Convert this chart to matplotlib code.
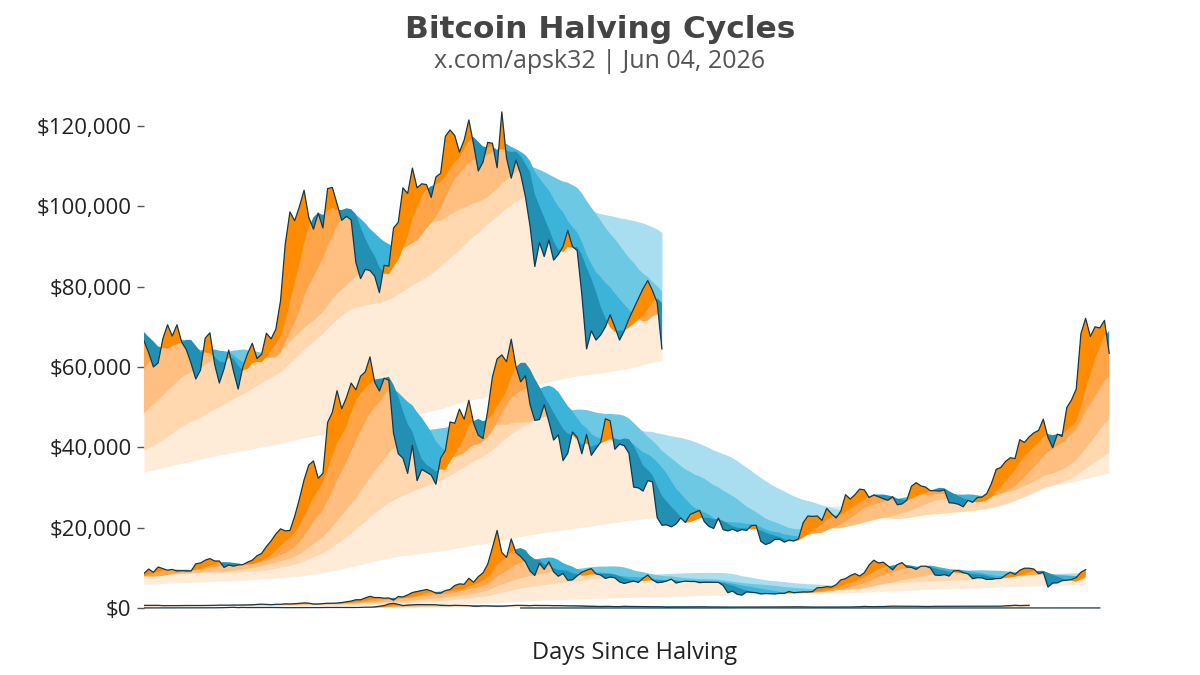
import numpy as np
import pandas as pd
import matplotlib
matplotlib.use("Agg")
import matplotlib.pyplot as plt

# ---------------- data (weekly samples, days since halving = 7 * index) ----------------
# cycle 0: genesis (2009-01-03) -> first halving; market data starts week 80 (mid-2010), USD
cycle0_start_week = 80
cycle0_usd = [0.05, 0.055, 0.065, 0.07, 0.07, 0.066, 0.064, 0.062, 0.062, 0.062, 0.062, 0.062,
              0.085, 0.10, 0.11, 0.19, 0.30, 0.27, 0.28, 0.22, 0.20, 0.23, 0.24, 0.25, 0.30, 0.32,
              0.39, 0.42, 0.44, 0.90, 1.05, 0.83, 0.90, 0.89, 0.90, 0.80, 0.82, 0.78, 0.75, 1.0,
              1.5, 3.5, 3.9, 7.5, 6.8, 8.5, 18.5, 19.0, 17.5, 16.5, 15.4, 14.6, 13.8, 13.8, 13.3,
              9.6, 10.7, 11.3, 8.6, 8.2, 4.8, 5.2, 5.2, 5.0, 4.1, 4.0, 3.2, 3.5, 3.0, 2.9, 2.3, 2.5,
              2.8, 3.1, 3.2, 3.9, 4.7, 6.8, 6.6, 6.2, 5.6, 5.9, 5.5, 4.4, 4.9, 4.9, 4.9, 5.4, 4.7,
              4.9, 4.8, 4.9, 5.1, 5.0, 5.1, 5.0, 5.1, 5.1, 5.3, 5.6, 6.5, 6.4, 6.7, 6.8, 7.6, 8.8,
              8.9, 11.0, 11.5, 11.6, 10.6, 10.2, 11.0, 11.8, 12.3, 12.4, 12.0, 11.8, 11.6, 10.8,
              10.6, 11.0, 11.7, 12.3]

# cycle 1: 2012-11-28 halving, USD
cycle1_usd = [12.4, 13.3, 13.6, 13.5, 13.4, 13.4, 14.0, 15.3, 17.5, 19.6, 21, 25, 29.5, 32, 44,
              47, 64, 89, 135, 165, 90, 140, 105, 112, 114, 122, 128, 121, 107, 108, 103, 79, 88,
              91, 95, 106, 106, 98, 119, 128, 125, 138, 127, 133, 108, 126, 145, 198, 205, 265,
              420, 600, 1000, 1150, 900, 600, 700, 770, 850, 850, 825, 810, 800, 650, 610, 580,
              660, 630, 600, 580, 440, 440, 520, 490, 445, 440, 445, 490, 580, 650, 650, 610, 580,
              650, 620, 620, 620, 570, 590, 550, 520, 510, 480, 480, 430, 420, 380, 350, 395, 385,
              340, 340, 420, 380, 370, 375, 350, 320, 320, 315, 290, 180, 230, 235, 225, 220, 245,
              240, 280, 295, 255, 245, 245, 245, 220, 235, 225, 235, 240, 235, 237, 225, 228, 250,
              243, 257, 270, 285, 276, 288, 280, 265, 225, 225, 228, 238, 230, 232, 236, 245, 252,
              270, 305, 400, 335, 325, 360, 360, 420, 455, 440, 430, 430, 430, 420, 395, 370, 380,
              420, 423, 430, 412, 415, 417, 415, 422, 424, 440, 445, 448, 452, 453, 450, 535, 580,
              690, 600, 640, 670]

# cycle 2: 2016-07-09 halving, thousands of USD
cycle2_k = [0.65, 0.66, 0.66, 0.655, 0.585, 0.585, 0.58, 0.57, 0.60, 0.62, 0.61, 0.60, 0.615,
            0.62, 0.64, 0.66, 0.715, 0.70, 0.705, 0.75, 0.735, 0.765, 0.77, 0.79, 0.89, 0.96,
            0.90, 0.82, 0.92, 0.92, 1.03, 1.00, 1.06, 1.15, 1.26, 1.20, 0.97, 0.97, 1.09, 1.18,
            1.18, 1.23, 1.35, 1.55, 1.72, 2.05, 2.05, 2.5, 2.9, 2.6, 2.6, 2.43, 2.5, 1.95, 2.85,
            2.75, 3.25, 3.85, 4.1, 4.35, 4.6, 4.25, 3.7, 3.7, 4.35, 4.6, 5.6, 6.0, 5.9, 7.4, 6.4,
            7.8, 8.75, 10.9, 15.0, 19.3, 13.8, 12.6, 17.2, 13.8, 12.8, 11.5, 9.2, 8.1, 11.1, 9.6,
            11.5, 9.0, 7.9, 8.6, 6.9, 7.0, 8.0, 8.9, 9.4, 9.8, 8.5, 8.2, 7.35, 7.7, 7.5, 6.5, 6.1,
            6.4, 6.7, 6.35, 7.4, 8.2, 7.0, 6.3, 6.4, 6.7, 7.2, 6.2, 6.5, 6.7, 6.6, 6.6, 6.3, 6.4,
            6.4, 6.4, 6.4, 5.6, 3.8, 4.2, 3.4, 3.2, 4.0, 3.9, 3.8, 3.5, 3.6, 3.55, 3.5, 3.65,
            3.65, 4.1, 3.8, 3.9, 4.0, 3.98, 4.1, 5.05, 5.07, 5.3, 5.2, 5.8, 7.0, 7.3, 8.05, 8.55,
            7.95, 8.8, 10.7, 11.9, 11.2, 11.4, 10.5, 9.5, 10.8, 11.3, 10.2, 10.1, 9.6, 10.4, 10.4,
            10.0, 8.2, 8.1, 8.3, 7.95, 9.25, 9.3, 8.8, 8.5, 7.3, 7.55, 7.5, 7.1, 7.15, 7.3, 7.35,
            8.2, 8.9, 8.35, 9.4, 9.9, 9.9, 9.7, 8.55, 8.9, 5.2, 6.2, 6.25, 6.8, 6.9, 7.1, 7.55,
            8.9, 9.55]

# cycle 3: 2020-05-11 halving, thousands of USD
cycle3_k = [8.6, 9.7, 8.9, 10.2, 9.8, 9.4, 9.6, 9.2, 9.3, 9.2, 9.2, 11.0, 11.2, 11.9, 12.3, 11.7,
            11.7, 10.1, 10.7, 10.4, 10.7, 10.8, 11.4, 11.9, 13.0, 13.6, 15.3, 16.7, 18.4, 19.7,
            19.2, 19.3, 22.8, 27.1, 31.9, 35.6, 36.6, 32.3, 33.5, 46.2, 48.7, 54.1, 49.6, 52.4,
            56.0, 54.3, 57.7, 58.8, 62.5, 56.2, 54.0, 57.2, 56.7, 43.5, 38.4, 37.3, 33.5, 40.5,
            31.7, 34.5, 33.8, 33.1, 30.8, 37.3, 39.2, 46.3, 46.0, 49.5, 47.0, 51.7, 46.0, 43.0,
            42.2, 49.1, 57.5, 62.0, 63.0, 61.3, 66.9, 60.1, 56.3, 57.8, 50.6, 46.7, 46.9, 50.6,
            46.4, 41.8, 43.1, 36.7, 38.5, 43.8, 42.5, 38.4, 43.2, 38.0, 39.7, 41.3, 47.1, 46.6,
            39.5, 40.8, 40.4, 38.5, 30.1, 29.9, 29.1, 31.7, 31.4, 22.5, 20.6, 20.7, 20.2, 20.9,
            22.4, 21.3, 23.3, 23.8, 24.3, 21.5, 20.3, 19.8, 22.4, 19.5, 19.2, 19.6, 19.1, 19.5,
            19.3, 20.5, 20.6, 16.6, 15.8, 16.2, 17.1, 17.1, 16.4, 16.9, 16.7, 17.2, 21.2, 22.9,
            22.8, 22.9, 21.8, 24.8, 23.5, 22.4, 24.1, 28.2, 27.1, 28.2, 29.6, 29.4, 27.5, 28.1,
            27.7, 27.2, 26.8, 27.7, 25.7, 25.9, 26.8, 30.3, 31.2, 30.4, 30.1, 29.2, 29.2, 29.1,
            29.4, 26.2, 26.1, 25.8, 25.2, 26.8, 26.3, 27.5, 27.6, 28.5, 31.0, 34.5, 35.0, 36.5,
            37.4, 37.2, 41.9, 41.2, 42.6, 43.6, 44.2, 47.0, 42.5, 39.9, 43.3, 42.7, 49.9, 51.8,
            54.5, 68.3, 72.1, 67.6, 70.0, 69.7, 71.6, 63.4]

# cycle 4: 2024-04-20 halving, thousands of USD
cycle4_k = [66.5, 63.5, 60.0, 61.0, 67.0, 70.5, 67.7, 70.5, 66.2, 64.3, 60.9, 57.0, 59.2, 67.2,
            68.5, 60.7, 56.0, 59.5, 64.2, 59.0, 54.5, 60.0, 63.3, 65.9, 62.1, 63.2, 68.4, 67.0,
            69.4, 76.5, 90.6, 98.6, 96.4, 99.9, 104.0, 97.2, 94.3, 98.3, 94.6, 104.4, 104.7,
            100.6, 96.5, 97.5, 96.6, 86.0, 82.0, 84.3, 84.0, 82.6, 78.5, 85.3, 85.1, 94.6, 96.0,
            104.6, 103.2, 109.5, 104.6, 105.6, 105.4, 102.2, 107.3, 108.2, 117.4, 119.0, 117.6,
            113.5, 116.5, 121.5, 115.4, 108.8, 111.0, 115.9, 115.7, 109.6, 123.5, 112.0, 107.0,
            111.5, 108.0, 102.5, 95.0, 85.0, 91.0, 87.5, 91.6, 86.6, 88.0, 90.0, 94.0, 90.0, 89.0,
            78.0, 64.5, 69.0, 66.7, 68.0, 70.0, 73.0, 70.0, 66.7, 69.0, 72.0, 74.5, 77.0, 79.5,
            81.5, 79.0, 76.0, 64.5]

ma_days = [50, 100, 200, 365, 1400]          # moving-average lengths (days)
y_ticks = [0, 20000, 40000, 60000, 80000, 100000, 120000]

orange = ["#FF8C00", "#FFA447", "#FFBF80", "#FFD8B0", "#FEEBD8"]
blue = ["#2190B3", "#3CB3D9", "#6DC8E3", "#A8DEEF", "#D4EFF8"]
line_col = "#16384A"

# ---------------- build series ----------------
cycles = [
    (np.asarray(cycle0_usd, float), cycle0_start_week),
    (np.asarray(cycle1_usd, float), 0),
    (np.asarray(cycle2_k, float) * 1000, 0),
    (np.asarray(cycle3_k, float) * 1000, 0),
    (np.asarray(cycle4_k, float) * 1000, 0),
]
full = pd.Series(np.concatenate([c for c, _ in cycles]))
mas = [full.rolling(max(1, round(d / 7)), min_periods=1).mean().to_numpy() for d in ma_days]

fig = plt.figure(figsize=(12, 6.75), dpi=100)
ax = fig.add_axes([144 / 1200, 63 / 675, 982 / 1200, 512 / 675])

start = 0
for ci, (prices, wk0) in enumerate(cycles):
    n = len(prices)
    days = 7 * (wk0 + np.arange(n))
    seg_mas = [m[start:start + n] for m in mas]
    start += n
    zbase = 10 * (len(cycles) - ci)  # older cycles drawn on top
    for k in reversed(range(len(ma_days))):
        m = seg_mas[k]
        ax.fill_between(days, prices, m, where=prices >= m, interpolate=True,
                        color=orange[k], lw=0, zorder=zbase + (len(ma_days) - k) * 0.1)
        ax.fill_between(days, prices, m, where=prices < m, interpolate=True,
                        color=blue[k], lw=0, zorder=zbase + (len(ma_days) - k) * 0.1)
    ax.plot(days, prices, color=line_col, lw=0.9, zorder=zbase + 1)

ax.set_xlim(0, 1460)
ax.set_ylim(-1000, 126460)
for s in ax.spines.values():
    s.set_visible(False)
ax.set_xticks([])
ax.set_yticks(y_ticks)
ax.set_yticklabels(["${:,.0f}".format(v) for v in y_ticks], fontfamily="Open Sans",
                   fontsize=16, color="#222222")
ax.tick_params(axis="y", length=5, width=1, color="#555555", pad=4)
ax.set_xlabel("Days Since Halving", fontfamily="Open Sans", fontsize=17, color="#222222",
              labelpad=21)

fig.text(0.5, 1 - 30 / 675, "Bitcoin Halving Cycles", ha="center", va="center",
         fontfamily="DejaVu Sans", fontweight="bold", fontsize=22.5, color="#444444")
fig.text(0.5, 1 - 62 / 675, "x.com/apsk32 | Jun 04, 2026", ha="center", va="center",
         fontfamily="Open Sans", fontsize=18, color="#555555")

fig.savefig("out.png", dpi=100)
